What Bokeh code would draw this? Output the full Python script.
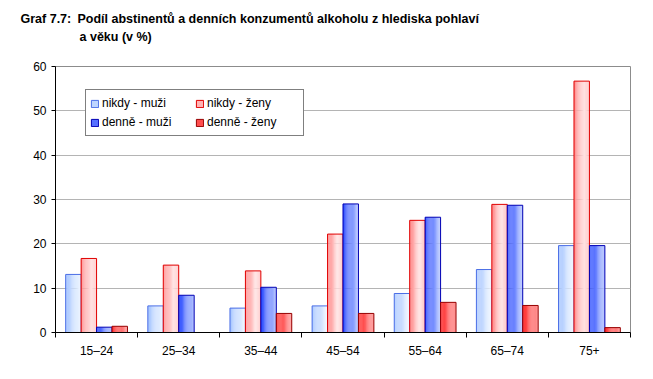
import numpy as np
from bokeh.plotting import figure
from bokeh.models import Range1d, FixedTicker, Legend, LegendItem, Title
from bokeh.embed import file_html
from bokeh.resources import INLINE

# ---- data ----
categories = ["15–24", "25–34", "35–44", "45–54", "55–64", "65–74", "75+"]
nikdy_muzi = [13.1, 6.0, 5.5, 6.0, 8.8, 14.2, 19.6]
nikdy_zeny = [16.7, 15.2, 13.9, 22.2, 25.3, 28.9, 56.7]
denne_muzi = [1.2, 8.4, 10.2, 29.0, 26.0, 28.7, 19.6]
denne_zeny = [1.4, 0.0, 4.3, 4.3, 6.8, 6.1, 1.1]
series_names = ["nikdy - muži", "nikdy - ženy", "denně - muži", "denně - ženy"]
y_ticks = [0, 10, 20, 30, 40, 50, 60]

FONT = "Liberation Sans"

p = figure(width=645, height=371, output_backend="svg", toolbar_location=None,
           x_range=Range1d(0, len(categories)), y_range=Range1d(0, 60),
           min_border_left=55, min_border_right=15, min_border_top=66, min_border_bottom=39)
p.background_fill_color = "white"
p.border_fill_color = "white"
p.outline_line_color = "#8c8c8c"
p.outline_line_width = 1

def hex2rgb(h):
    h = h.lstrip("#")
    return np.array([int(h[i:i + 2], 16) for i in (0, 2, 4)], dtype=float)

def interp(stops, t):
    for (t0, c0), (t1, c1) in zip(stops[:-1], stops[1:]):
        if t0 <= t <= t1:
            f = (t - t0) / (t1 - t0) if t1 > t0 else 0
            c = hex2rgb(c0) * (1 - f) + hex2rgb(c1) * f
            return "#%02x%02x%02x" % tuple(int(round(v)) for v in c)
    return stops[-1][1]

styles = [
    dict(stops=[(0, "#a4c4ff"), (1, "#f2f8ff")], line="#4a6ee6"),
    dict(stops=[(0, "#ff8686"), (0.65, "#ffe2e2"), (1, "#ffc6c6")], line="#e00000"),
    dict(stops=[(0, "#2848ff"), (1, "#b8c8ff")], line="#0000b4"),
    dict(stops=[(0, "#ff2a2a"), (1, "#ff9a9a")], line="#960000"),
]

values = [nikdy_muzi, nikdy_zeny, denne_muzi, denne_zeny]
centers = np.arange(len(categories)) + 0.5
bw = 0.188
N = 14
legend_items = []
for k, (vals, st, name) in enumerate(zip(values, styles, series_names)):
    off = (k - 1.5) * bw
    strip_rs = []
    for j in range(N):
        t = (j + 0.5) / N
        xo = off - bw / 2 + t * bw
        r = p.vbar(x=centers + xo, top=vals, bottom=0, width=bw / N * 1.08,
                   fill_color=interp(st["stops"], t), line_color=None)
        strip_rs.append(r)
    out_r = p.vbar(x=centers + off, top=vals, bottom=0, width=bw,
                   fill_alpha=0, line_color=st["line"], line_width=1)
    legend_items.append((name, [strip_rs[N // 3], out_r]))

order = [0, 2, 1, 3]
legend = Legend(items=[LegendItem(label=legend_items[i][0], renderers=legend_items[i][1]) for i in order],
                location=(30, 196), ncols=2, orientation="vertical",
                border_line_color="black", border_line_width=1, background_fill_color="white",
                background_fill_alpha=1, padding=4, spacing=1, margin=0,
                glyph_width=9, glyph_height=9, label_standoff=3, label_height=18, label_width=92,
                label_text_font=FONT, label_text_font_size="12px", label_text_color="black")
p.add_layout(legend, "center")

# axes
p.yaxis.ticker = FixedTicker(ticks=y_ticks)
p.yaxis.axis_line_color = "black"
p.yaxis.major_tick_line_color = "black"
p.yaxis.major_tick_out = 4
p.yaxis.major_tick_in = 0
p.yaxis.minor_tick_line_color = None
p.yaxis.major_label_standoff = 5
p.yaxis.major_label_text_font = FONT
p.yaxis.major_label_text_font_size = "12px"
p.yaxis.major_label_text_color = "black"

p.xaxis.ticker = FixedTicker(ticks=list(centers), minor_ticks=list(range(len(categories) + 1)))
p.xaxis.major_label_overrides = {float(c): lab for c, lab in zip(centers, categories)}
p.xaxis.axis_line_color = "black"
p.xaxis.major_tick_line_color = None
p.xaxis.major_tick_out = 5
p.xaxis.major_tick_in = 0
p.xaxis.minor_tick_line_color = "black"
p.xaxis.minor_tick_out = 5
p.xaxis.minor_tick_in = 0
p.xaxis.major_label_standoff = 6
p.xaxis.major_label_text_font = FONT
p.xaxis.major_label_text_font_size = "12px"
p.xaxis.major_label_text_color = "black"

p.xgrid.grid_line_color = None
p.ygrid.grid_line_color = "#b4b4b4"
p.ygrid.ticker = FixedTicker(ticks=y_ticks)

# title: two lines (inner first); trailing empty line gives space above the frame
tkw = dict(text_font=FONT, text_font_size="12.5px", text_font_style="bold", text_color="black",
           align="left")
p.add_layout(Title(text="a věku (v %)\n", offset=24, standoff=0, text_line_height=1.6, **tkw), "above")
p.add_layout(Title(text="Graf 7.7:\u2002Podíl abstinentů a denních konzumentů alkoholu z hlediska pohlaví",
                   offset=-35, standoff=6, **tkw), "above")

open("out.html", "w").write(file_html(p, INLINE))
